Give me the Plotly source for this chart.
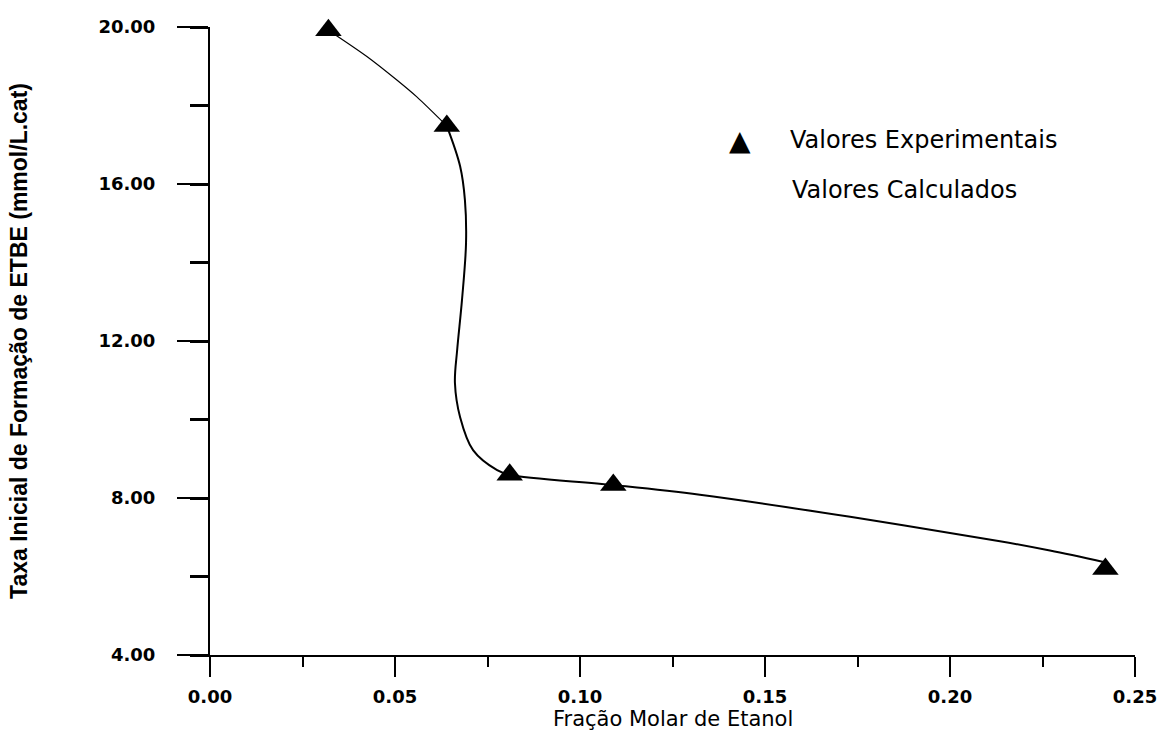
import plotly.graph_objects as go

# Experimental values (triangles)
exp_x = [0.032, 0.064, 0.081, 0.109, 0.242]
exp_y = [19.92, 17.48, 8.59, 8.33, 6.19]

# Calculated curve, upper thin part (between first two points)
calc_top_x = [0.032, 0.0424, 0.0505, 0.0559, 0.064]
calc_top_y = [19.92, 19.25, 18.65, 18.22, 17.48]

# Calculated curve, main part
calc_x = [0.064, 0.0676, 0.0689, 0.0692, 0.0681, 0.0668, 0.0662, 0.0676,
          0.0711, 0.0776, 0.081, 0.109, 0.1324, 0.173, 0.2135, 0.227, 0.2415]
calc_y = [17.48, 16.45, 15.59, 14.50, 13.04, 11.77, 10.93, 10.06,
          9.22, 8.71, 8.59, 8.33, 8.08, 7.52, 6.90, 6.66, 6.37]

x_ticks = [0.0, 0.05, 0.10, 0.15, 0.20, 0.25]
x_ticktext = ["0.00", "0.05", "0.10", "0.15", "0.20", "0.25"]
y_ticks = [4, 8, 12, 16, 20]
y_ticktext = ["4.00", "8.00", "12.00", "16.00", "20.00"]

legend_labels = ["Valores Experimentais", "Valores Calculados"]
x_title = "Fração Molar de Etanol"
y_title = "Taxa Inicial de Formação de ETBE (mmol/L.cat)"

TICK_FONT = dict(family="DejaVu Sans", size=18, color="black", weight="bold")
TEXT_FONT = dict(family="DejaVu Sans", size=24, color="black")

fig = go.Figure()
fig.add_trace(go.Scatter(x=calc_top_x, y=calc_top_y, mode="lines",
                         line=dict(color="black", width=1.2, shape="spline", smoothing=0.8),
                         showlegend=False, hoverinfo="skip"))
fig.add_trace(go.Scatter(x=calc_x, y=calc_y, mode="lines", name=legend_labels[1],
                         line=dict(color="black", width=2, shape="spline", smoothing=1.0),
                         showlegend=False))
fig.add_trace(go.Scatter(x=exp_x, y=exp_y, mode="markers", name=legend_labels[0],
                         marker=dict(symbol="triangle-up", size=23, color="black"),
                         cliponaxis=False, showlegend=False))

fig.update_layout(
    width=1163, height=733,
    margin=dict(l=210, r=28, t=27, b=78),
    paper_bgcolor="white", plot_bgcolor="white",
    showlegend=False,
    xaxis=dict(
        range=[0, 0.25], tickvals=x_ticks, ticktext=x_ticktext,
        ticks="outside", ticklen=20, tickwidth=1.5, tickcolor="black",
        minor=dict(dtick=0.025, ticks="outside", ticklen=10, tickwidth=1.5, tickcolor="black"),
        showline=True, linewidth=2, linecolor="black",
        showgrid=False, zeroline=False, automargin=False,
        tickfont=TICK_FONT, ticklabelstandoff=4,
    ),
    yaxis=dict(
        range=[4, 20], tickvals=y_ticks, ticktext=y_ticktext,
        ticks="outside", ticklen=31, tickwidth=1.5, tickcolor="black",
        minor=dict(dtick=2, ticks="outside", ticklen=18, tickwidth=2.5, tickcolor="black"),
        showline=True, linewidth=2, linecolor="black",
        showgrid=False, zeroline=False, automargin=False,
        tickfont=TICK_FONT, ticklabelstandoff=18,
        title=dict(text=y_title,
                   font=dict(family="Liberation Sans Narrow, Liberation Sans, Arial", size=23,
                             color="black", weight="bold"), standoff=64),
    ),
    annotations=[
        dict(text=x_title, xref="paper", yref="paper", x=0.5, y=-0.1242,
             xanchor="center", yanchor="bottom", showarrow=False,
             font=dict(family="DejaVu Sans", size=21, color="black")),
        dict(text="▲", xref="paper", yref="paper", x=0.573, y=0.820,
             xanchor="center", yanchor="middle", showarrow=False,
             font=dict(family="DejaVu Sans", size=28, color="black")),
        dict(text=legend_labels[0], xref="paper", yref="paper", x=0.625, y=0.820,
             xanchor="left", yanchor="middle", showarrow=False, font=TEXT_FONT),
        dict(text=legend_labels[1], xref="paper", yref="paper", x=0.627, y=0.740,
             xanchor="left", yanchor="middle", showarrow=False, font=TEXT_FONT),
    ],
)

fig.write_html("out.html")
